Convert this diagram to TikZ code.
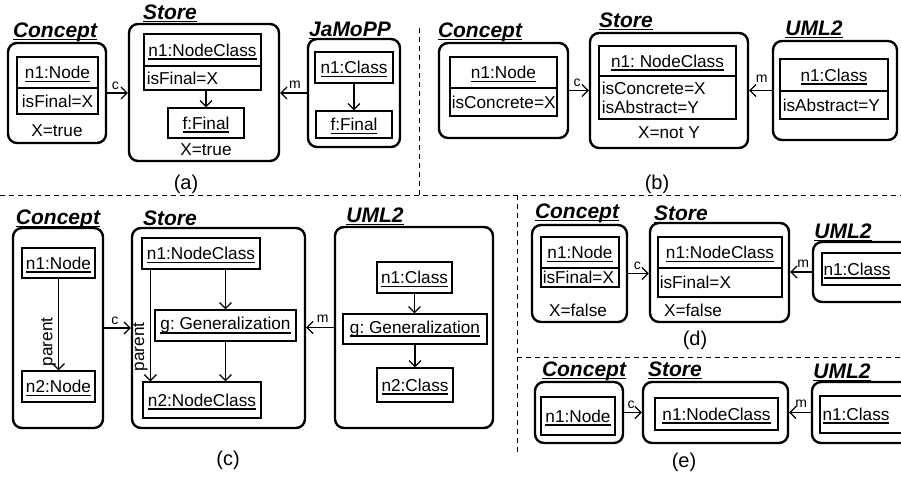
\documentclass[tikz,border=0pt]{standalone}
\usepackage{fontspec}
\setmainfont{Liberation Sans}
\usetikzlibrary{fit,arrows.meta}
\newcommand\objname[1]{\setbox0=\hbox{#1}\rlap{\smash{\rule[-1.9pt]{\wd0}{0.95pt}}}\box0}
\newcommand\vtitle[1]{\setbox0=\hbox{#1}\rlap{\smash{\rule[-1.6pt]{\wd0}{0.6pt}}}\box0}
\frenchspacing
\begin{document}
\frenchspacing
\begin{tikzpicture}[x=0.5pt,y=-0.5pt,
 every node/.style={font=\fontsize{8.6}{9.5}\selectfont},
 every label/.style={inner sep=0pt},
 outer/.style={draw, line width=1.2pt, rounded corners=4.5pt, inner sep=0pt},
 obj/.style={draw, line width=0.6pt, inner sep=0pt},
 ttl/.style={font=\fontsize{10.5}{12}\selectfont\bfseries\itshape, inner sep=0pt},
 lbl/.style={font=\fontsize{7}{8}\selectfont, inner sep=0pt},
 figcap/.style={font=\fontsize{10}{12}\selectfont, inner sep=0pt},
 txt/.style={inner sep=0pt},
 attr/.style={inner sep=0pt, anchor=west, align=left},
 rel/.style={inner sep=1pt, rotate=90, above},
 arr/.style={line width=0.6pt, -{Straight Barb[length=3pt,width=6pt]}},
 sep/.style={line width=0.5pt, dash pattern=on 2.5pt off 2pt}]
\path[use as bounding box] (0,0) rectangle (901,477);
\clip (0,0) rectangle (901,477);
% separators
\coordinate (s1) at (419,28); \coordinate (s2) at (419,195);
\coordinate (s3) at (0,195); \coordinate (s4) at (901,195);
\coordinate (s5) at (517,195); \coordinate (s6) at (517,453);
\coordinate (s7) at (517,357); \coordinate (s8) at (901,357);
\draw[sep] (s1) -- (s2);
\draw[sep] (s3) -- (s4);
\draw[sep] (s5) -- (s6);
\draw[sep] (s7) -- (s8);
% ---------- (a)
\node[outer, fit={(8,43)(106,143)}] (conA) {};
\node[ttl] (conAt) at (55,32) {\vtitle{Concept}};
\node[obj, fit={(17,57)(98,88)}, label=center:{\objname{n1:Node}}] (n1A) {};
\node[obj, fit={(17,88)(98,114)}, label=center:{isFinal=X}] (n1Aa) {};
\node[txt] (conAx) at (57,131) {X=true};
\node[outer, fit={(129,24)(279,161)}] (stoA) {};
\node[ttl] (stoAt) at (170,12) {\vtitle{Store}};
\node[obj, fit={(144,34)(261,66)}, label=center:{\objname{n1:NodeClass}}] (n1sA) {};
\node[obj, fit={(144,66)(261,90)}] (n1sAa) {};
\node[attr] (n1sAat) at ([xshift=1.5pt]n1sAa.west) {isFinal=X};
\node[obj, fit={(168,108)(244,138)}, label=center:{\objname{f:Final}}] (fA) {};
\node[txt] (stoAx) at (206,150) {X=true};
\node[outer, fit={(308,39)(400,147)}] (jamA) {};
\node[ttl] (jamAt) at (350,29) {\vtitle{JaMoPP}};
\node[obj, fit={(315,52)(393,83)}, label=center:{\objname{n1:Class}}] (n1jA) {};
\node[obj, fit={(316,111)(392,138)}, label=center:{\objname{f:Final}}] (fjA) {};
\draw[arr] (conA.east) -- (conA.east -| stoA.west) node[lbl, pos=0.4, above=1.5pt] {c};
\draw[arr] (jamA.west) -- (jamA.west -| stoA.east) node[lbl, pos=0.45, above=2pt] {m};
\draw[arr] (fA.north |- n1sAa.south) -- (fA.north);
\draw[arr] (n1jA.south) -- (fjA.north);
\node[figcap] (capA) at (186,184) {(a)};
% ---------- (b)
\node[outer, fit={(439,43)(568,138)}] (conB) {};
\node[ttl] (conBt) at (480,32) {\vtitle{Concept}};
\node[obj, fit={(450,57)(557,88)}, label=center:{\objname{n1:Node}}] (n1B) {};
\node[obj, fit={(450,88)(557,116)}] (n1Ba) {};
\node[attr] (n1Bat) at ([xshift=1pt]n1Ba.west) {isConcrete=X};
\node[outer, fit={(590,33)(748,148)}] (stoB) {};
\node[ttl] (stoBt) at (626,20) {\vtitle{Store}};
\node[obj, fit={(599,46)(736,76)}, label=center:{\objname{n1: NodeClass}}] (n1sB) {};
\node[obj, fit={(599,76)(736,119)}] (n1sBa) {};
\node[attr] (n1sBat) at ([xshift=1.5pt]n1sBa.west) {isConcrete=X\\isAbstract=Y};
\node[txt] (stoBx) at (669,133) {X=not Y};
\node[outer, fit={(773,41)(897,140)}] (umlB) {};
\node[ttl] (umlBt) at (814,28) {\vtitle{UML2}};
\node[obj, fit={(780,59)(888,91)}, label=center:{\objname{n1:Class}}] (n1uB) {};
\node[obj, fit={(780,91)(888,119)}] (n1uBa) {};
\node[attr] (n1uBat) at ([xshift=1.5pt]n1uBa.west) {isAbstract=Y};
\draw[arr] (conB.east) -- (conB.east -| stoB.west) node[lbl, pos=0.4, above=1.5pt] {c};
\draw[arr] (umlB.west) -- (umlB.west -| stoB.east) node[lbl, pos=0.45, above=3.5pt] {m};
\node[figcap] (capB) at (657,184) {(b)};
% ---------- (c)
\node[outer, fit={(13,228)(103,428)}] (conC) {};
\node[ttl] (conCt) at (58,219) {\vtitle{Concept}};
\node[obj, fit={(22,248)(95,278)}, label=center:{\objname{n1:Node}}] (n1C) {};
\node[obj, fit={(22,371)(95,402)}, label=center:{\objname{n2:Node}}] (n2C) {};
\draw[arr] (n1C.south) -- (n2C.north) node[rel, pos=0.69] {parent};
\node[outer, fit={(132,228)(305,428)}] (stoC) {};
\node[ttl] (stoCt) at (170,218) {\vtitle{Store}};
\node[obj, fit={(142,238)(260,269)}, label=center:{\objname{n1:NodeClass}}] (n1sC) {};
\node[obj, fit={(155,310)(296,341)}, label=center:{\objname{g: Generalization}}] (gsC) {};
\node[obj, fit={(143,382)(261,418)}, label=center:{\objname{n2:NodeClass}}] (n2sC) {};
\draw[arr] (gsC.north |- n1sC.south) -- (gsC.north);
\draw[arr] (gsC.south) -- (gsC.south |- n2sC.north);
\draw[arr] ([xshift=4.5pt]n1sC.south west) -- ([xshift=4.5pt]n1sC.south west |- n2sC.north) node[rel, pos=0.69] {parent};
\node[outer, fit={(335,227)(493,428)}] (umlC) {};
\node[ttl] (umlCt) at (375,215) {\vtitle{UML2}};
\node[obj, fit={(377,262)(452,293)}, label=center:{\objname{n1:Class}}] (n1uC) {};
\node[obj, fit={(343,314)(487,344)}, label=center:{\objname{g: Generalization}}] (guC) {};
\node[obj, fit={(377,368)(453,402)}, label=center:{\objname{n2:Class}}] (n2uC) {};
\draw[arr] (n1uC.south) -- (n1uC.south |- guC.north);
\draw[arr] (n2uC.north |- guC.south) -- (n2uC.north);
\draw[arr] (conC.east) -- (conC.east -| stoC.west) node[lbl, pos=0.4, above=1.5pt] {c};
\draw[arr] (umlC.west) -- (umlC.west -| stoC.east) node[lbl, pos=0.4, above=2pt] {m};
\node[figcap] (capC) at (228,460) {(c)};
% ---------- (d)
\node[outer, fit={(532,225)(627,322)}] (conD) {};
\node[ttl] (conDt) at (577,213) {\vtitle{Concept}};
\node[obj, fit={(541,237)(619,268)}, label=center:{\objname{n1:Node}}] (n1D) {};
\node[obj, fit={(541,268)(619,287)}] (n1Da) {};
\node[attr] (n1Dat) at ([xshift=1pt]n1Da.west) {isFinal=X};
\node[txt] (conDx) at (578,310) {X=false};
\node[outer, fit={(650,223)(789,322)}] (stoD) {};
\node[ttl] (stoDt) at (681,213) {\vtitle{Store}};
\node[obj, fit={(658,237)(782,268)}, label=center:{\objname{n1:NodeClass}}] (n1sD) {};
\node[obj, fit={(658,268)(782,297)}] (n1sDa) {};
\node[attr] (n1sDat) at ([xshift=1pt]n1sDa.west) {isFinal=X};
\node[txt] (stoDx) at (693,310) {X=false};
\node[outer, fit={(813,242)(915,302)}] (umlD) {};
\node[ttl] (umlDt) at (843,231) {\vtitle{UML2}};
\node[obj, fit={(822,253)(912,285)}] (n1uD) {};
\node[txt] (n1uDt) at (857,269) {\objname{n1:Class}};
\draw[arr] (conD.east) -- (conD.east -| stoD.west) node[lbl, pos=0.45, above=1.5pt] {c};
\draw[arr] (umlD.west) -- (umlD.west -| stoD.east) node[lbl, pos=0.4, above=2pt] {m};
\node[figcap] (capD) at (695,340) {(d)};
% ---------- (e)
\node[outer, fit={(535,382)(623,443)}] (conE) {};
\node[ttl] (conEt) at (584,371) {\vtitle{Concept}};
\node[obj, fit={(541,397)(615,435)}, label=center:{\objname{n1:Node}}] (n1E) {};
\node[outer, fit={(643,382)(788,443)}] (stoE) {};
\node[ttl] (stoEt) at (675,369) {\vtitle{Store}};
\node[obj, fit={(655,398)(778,430)}, label=center:{\objname{n1:NodeClass}}] (n1sE) {};
\node[outer, fit={(812,382)(915,443)}] (umlE) {};
\node[ttl] (umlEt) at (842,371) {\vtitle{UML2}};
\node[obj, fit={(820,396)(912,433)}] (n1uE) {};
\node[txt] (n1uEt) at (856,414) {\objname{n1:Class}};
\draw[arr] (conE.east) -- (conE.east -| stoE.west) node[lbl, pos=0.4, above=1.5pt] {c};
\draw[arr] (umlE.west) -- (umlE.west -| stoE.east) node[lbl, pos=0.45, above=2pt] {m};
\node[figcap] (capE) at (684,462) {(e)};
\end{tikzpicture}
\end{document}
